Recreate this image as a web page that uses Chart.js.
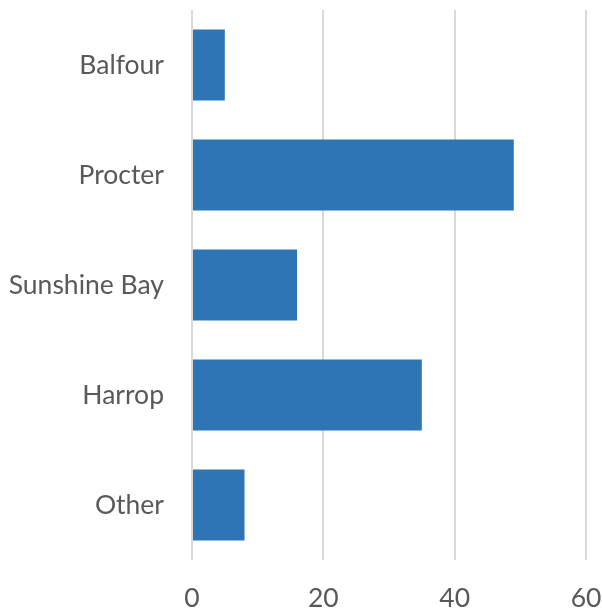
<!DOCTYPE html>
<html>
<head>
<meta charset="utf-8">
<script src="https://cdn.jsdelivr.net/npm/chart.js@4.4.0/dist/chart.umd.min.js"></script>
<style>
  html, body { margin: 0; padding: 0; background: #fff; }
  #wrap { width: 602px; height: 609px; }
</style>
</head>
<body>
<div id="wrap"><canvas id="chart"></canvas></div>
<script>
const categories = ["Balfour", "Procter", "Sunshine Bay", "Harrop", "Other"];
const values = [5, 49, 16, 35, 8];
const xTicks = [0, 20, 40, 60];

const textColor = "#595959";
const font = { family: "Lato, 'Open Sans', sans-serif", size: 26.5 };

new Chart(document.getElementById("chart").getContext("2d"), {
  type: "bar",
  data: {
    labels: categories,
    datasets: [
      {
        data: values,
        backgroundColor: "#2e75b6",
        borderWidth: 0,
        barPercentage: 0.645,
        categoryPercentage: 1,
      },
    ],
  },
  options: {
    indexAxis: "y",
    responsive: true,
    maintainAspectRatio: false,
    animation: false,
    layout: { padding: { top: 10, right: 16, left: 0, bottom: 0 } },
    plugins: {
      legend: { display: false },
      tooltip: { enabled: false },
    },
    scales: {
      x: {
        min: xTicks[0],
        max: xTicks[xTicks.length - 1],
        afterBuildTicks: (scale) => {
          scale.ticks = xTicks.map((v) => ({ value: v }));
        },
        grid: { color: "#d9d9d9", lineWidth: 2, drawTicks: false },
        border: { display: false },
        ticks: { color: textColor, font: font, padding: 23 },
        afterFit: (scale) => {
          scale.height = 49;
          scale.paddingLeft = 0;
          scale.paddingRight = 0;
        },
      },
      y: {
        grid: { display: false, drawTicks: false },
        border: { display: false },
        ticks: { color: textColor, font: font, padding: 28 },
        afterFit: (scale) => {
          scale.width = 192;
          scale.paddingTop = 0;
          scale.paddingBottom = 0;
        },
      },
    },
  },
});
</script>
</body>
</html>
